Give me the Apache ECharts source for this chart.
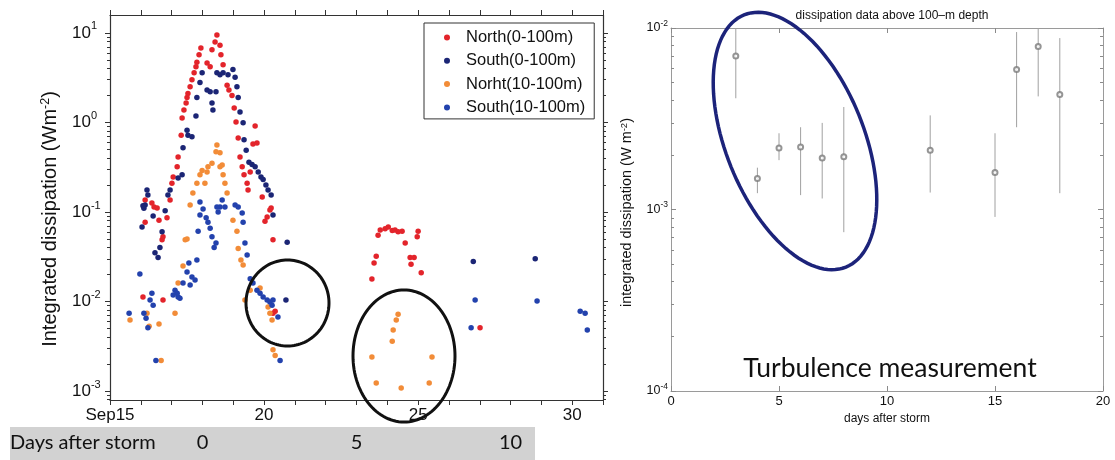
<!DOCTYPE html>
<html>
<head>
<meta charset="utf-8">
<script src="https://cdn.jsdelivr.net/npm/echarts@6/dist/echarts.min.js"></script>
<style>
  html, body { margin: 0; padding: 0; background: #fff; }
  #chart { width: 1115px; height: 460px; }
</style>
</head>
<body>
<div id="chart"></div>
<script>
// Depth-integrated dissipation, [day of September, W m^-2]
const northShallow = [
  [16.14,0.136],[16.36,0.126],[16.43,0.114],[16.53,0.111],[16.14,0.077],[16.59,0.081],[16.69,0.049],[16.72,0.053],
  [16.85,0.086],[16.95,0.136],[16.07,0.0112],[16.72,0.0104],
  [17.01,0.21],[17.05,0.246],[17.18,0.32],[17.21,0.41],[17.31,0.72],[17.34,1.12],[17.40,1.38],[17.47,1.65],
  [17.50,1.9],[17.53,2.1],[17.60,2.5],[17.66,3.0],[17.73,3.6],[17.79,4.2],[17.82,4.7],[17.89,5.7],[17.95,6.8],
  [18.15,4.6],[18.25,4.2],[18.31,6.5],[18.41,7.9],[18.47,9.5],[18.57,7.3],
  [18.60,5.7],[18.67,4.4],[18.80,2.6],[18.86,2.3],[18.96,2.0],[19.03,1.45],[19.09,1.01],[19.16,0.67],[19.22,0.41],
  [19.29,0.32],[19.35,0.26],[19.45,0.21],[19.48,0.176],[19.55,0.28],[19.71,0.91],[19.64,0.575],[19.77,0.59],
  [19.94,0.147],[20.23,0.111],[20.19,0.105],[20.10,0.088],[20.03,0.079],[20.29,0.049],[20.36,0.0078],[20.29,0.0074],
  [23.77,0.063],[23.93,0.065],[24.03,0.068],[24.16,0.062],[24.25,0.063],[24.35,0.060],[24.48,0.061],[25.00,0.061],
  [23.70,0.055],[24.97,0.053],[24.58,0.045],[23.64,0.032],[23.57,0.027],[24.74,0.031],[24.87,0.031],[24.77,0.026],
  [25.10,0.021],[23.50,0.0178],[27.01,0.0051]
];
const southShallow = [
  [17.99,3.6],[17.92,2.8],[18.15,2.3],[18.25,2.2],[18.44,2.2],[17.82,1.9],[18.31,1.65],[18.34,1.38],[17.79,1.18],
  [17.50,0.82],[17.53,0.72],[17.66,0.69],[17.37,0.52],[17.21,0.24],[17.34,0.26],[16.95,0.176],[16.88,0.155],
  [16.20,0.176],[16.23,0.155],[16.14,0.12],[16.10,0.11],
  [18.47,3.6],[18.57,3.4],[18.67,3.6],[18.83,3.4],[18.99,3.9],[19.06,3.2],[19.12,2.5],[19.16,1.9],[19.22,1.31],
  [19.32,0.99],[19.35,0.64],[19.42,0.49],[19.51,0.36],[19.61,0.34],[19.71,0.32],[19.81,0.28],[19.90,0.246],
  [19.97,0.23],[20.06,0.20],[20.13,0.176],[20.23,0.155],
  [16.04,0.068],[16.40,0.09],[16.79,0.103],[16.69,0.06],[16.62,0.040],[16.46,0.035],[16.56,0.031],[16.07,0.117],
  [20.29,0.0925],[20.75,0.046],[20.71,0.0104],
  [26.79,0.028],[28.80,0.030]
];
const northDeep = [
  [18.47,0.56],[18.44,0.47],[18.31,0.35],[18.18,0.32],[18.15,0.28],[17.99,0.29],[17.92,0.26],[17.82,0.21],
  [18.08,0.21],[17.69,0.163],[17.60,0.12],[18.57,0.32],[18.57,0.46],[18.64,0.335],[18.67,0.26],[18.73,0.21],[18.80,0.163],
  [17.44,0.049],[17.50,0.050],[17.37,0.025],[17.21,0.0161],[15.65,0.0062],[16.20,0.0074],[16.27,0.0053],
  [16.59,0.0056],[17.11,0.0074],[16.66,0.0022],
  [18.99,0.081],[19.12,0.061],[19.16,0.039],[19.25,0.029],[19.32,0.0256],[19.38,0.0104],[19.55,0.0134],
  [19.87,0.0142],[20.13,0.0087],[20.19,0.0074],[20.26,0.0062],[20.29,0.0029],[20.36,0.0025],
  [24.35,0.0072],[24.29,0.0062],[24.19,0.0048],[24.16,0.0036],[23.50,0.0024],[25.45,0.0024],
  [23.64,0.00123],[24.45,0.00108],[25.36,0.00123]
];
const southDeep = [
  [17.92,0.129],[18.02,0.108],[17.92,0.0925],[18.12,0.086],[18.18,0.077],[18.25,0.066],[17.86,0.061],[18.31,0.053],
  [18.44,0.045],[18.38,0.040],[18.57,0.114],[18.51,0.10],[18.73,0.114],[19.06,0.12],[19.16,0.114],[19.29,0.0975],
  [19.32,0.077],[18.64,0.136],[18.47,0.114],
  [17.82,0.029],[17.56,0.027],[17.50,0.0214],[17.66,0.0188],[17.76,0.0174],[17.37,0.0161],[17.60,0.0153],
  [17.11,0.0134],[17.18,0.0124],[17.21,0.0112],[17.27,0.0109],[17.05,0.0118],
  [15.97,0.0203],[16.36,0.0124],[16.30,0.0104],[16.40,0.0091],[15.62,0.0074],[16.10,0.0074],[16.17,0.0065],
  [16.23,0.0051],[16.49,0.0022],
  [19.38,0.045],[19.45,0.033],[19.55,0.018],[19.64,0.0161],[19.77,0.0134],[19.87,0.0124],[19.97,0.0112],
  [20.10,0.0104],[20.19,0.0099],[20.29,0.0104],[20.26,0.0091],[20.45,0.0067],[20.52,0.0022],
  [26.85,0.0104],[28.86,0.0101],[26.72,0.0051],[30.26,0.0078],[30.42,0.0074],[30.49,0.0048]
];
const seriesNames = ['North(0-100m)', 'South(0-100m)', 'Norht(10-100m)', 'South(10-100m)'];
const seriesColors = ['#e3242b', '#1b2575', '#f28c38', '#2342ad'];

// Turbulence profiles: days after storm, mean and range of integrated dissipation (W m^-2)
const turbDays = [3, 4, 5, 6, 7, 8, 12, 15, 16, 17, 18];
const turbMean = [0.0070, 0.00148, 0.00218, 0.00221, 0.00192, 0.00195, 0.00212, 0.0016, 0.0059, 0.0079, 0.0043];
const turbLow  = [0.0041, 0.00123, 0.00187, 0.0012, 0.00115, 0.00075, 0.00124, 0.00091, 0.00284, 0.0042, 0.00123];
const turbHigh = [0.0100, 0.0017, 0.00263, 0.00284, 0.0030, 0.00367, 0.0033, 0.00263, 0.0095, 0.0100, 0.0088];

// Axis labels
const dayLabels = { 15: 'Sep15', 20: '20', 25: '25', 30: '30' };
const stormDay = 18;            // September day taken as "0 days after storm"
const stormLabelStep = 5;
const leftDecades = [0.001, 0.01, 0.1, 1, 10];
const rightDecades = [0.0001, 0.001, 0.01];

const FONT = 'Liberation Sans';
const SLIDE_FONT = 'Lato';

const leftMin = Math.pow(10, -3.1), leftMax = Math.pow(10, 1.2);

function minorLogTicks(lo, hi) {
  const out = [];
  for (let e = -5; e <= 2; e++) {
    for (let m = 2; m <= 9; m++) {
      const v = m * Math.pow(10, e);
      if (v > lo && v < hi) out.push(v);
    }
  }
  return out;
}

function powerLabel(v) {
  const e = Math.round(Math.log10(v));
  return '{b|10}{s|' + e + '}';
}

function ellipse(cx, cy, rx, ry, rotDeg) {
  const t = rotDeg * Math.PI / 180, pts = [];
  for (let i = 0; i < 120; i++) {
    const a = i / 120 * Math.PI * 2;
    const x = rx * Math.cos(a), y = ry * Math.sin(a);
    pts.push([cx + x * Math.cos(t) - y * Math.sin(t), cy + x * Math.sin(t) + y * Math.cos(t)]);
  }
  return pts;
}

const leftRich = {
  b: { fontSize: 17, fontFamily: FONT, color: '#111', lineHeight: 24 },
  s: { fontSize: 11, fontFamily: FONT, color: '#111', lineHeight: 12, verticalAlign: 'top' }
};
const rightRich = {
  b: { fontSize: 12.5, fontFamily: FONT, color: '#111', lineHeight: 18 },
  s: { fontSize: 8.5, fontFamily: FONT, color: '#111', lineHeight: 9, verticalAlign: 'top' }
};

// ---- axes of the time-series panel ----
const leftFrame = { show: true, onZero: false, lineStyle: { color: '#333', width: 1.2 } };
const noLine = { show: false, onZero: false };
function leftLogAxis(position, major, withLabels) {
  return {
    type: 'log', gridIndex: 0, position: position, min: leftMin, max: leftMax,
    axisLine: major ? leftFrame : noLine,
    splitLine: { show: false },
    axisTick: { show: true, inside: false, length: major ? 5 : 3,
      customValues: major ? leftDecades : minorLogTicks(leftMin, leftMax),
      lineStyle: { color: '#333', width: 1 } },
    axisLabel: withLabels ? {
      show: true, customValues: leftDecades, formatter: powerLabel,
      align: 'left', margin: 38, rich: leftRich
    } : { show: false }
  };
}

// ---- axes of the turbulence panel ----
const rightFrame = { show: true, onZero: false, lineStyle: { color: '#9a9a9a', width: 1 } };
function rightLogAxis(position, major, withLabels) {
  return {
    type: 'log', gridIndex: 1, position: position, min: 0.0001, max: 0.01,
    axisLine: major ? rightFrame : noLine,
    splitLine: { show: false },
    axisTick: { show: true, inside: true, length: major ? 5 : 3,
      customValues: major ? rightDecades : minorLogTicks(0.0001, 0.01),
      lineStyle: { color: '#8a8a8a', width: 1 } },
    axisLabel: withLabels ? {
      show: true, customValues: rightDecades, formatter: powerLabel,
      margin: 3, rich: rightRich
    } : { show: false },
    name: withLabels ? 'integrated dissipation (W m{s|-2})' : '',
    nameLocation: 'middle', nameGap: 36, nameRotate: 90,
    nameTextStyle: { fontFamily: FONT, fontSize: 14.5, color: '#111', lineHeight: 16, padding: [0, 6, 0, 0],
      rich: { s: { fontSize: 9.5, fontFamily: FONT, color: '#111', lineHeight: 9, verticalAlign: 'top' } } }
  };
}

const chart = echarts.init(document.getElementById('chart'), null, { renderer: 'canvas' });

const scatterSeries = [northShallow, southShallow, northDeep, southDeep].map((d, i) => ({
  name: seriesNames[i], type: 'scatter', xAxisIndex: 0, yAxisIndex: 0,
  data: d, symbol: 'circle', symbolSize: 5.5,
  itemStyle: { color: seriesColors[i], opacity: 1 },
  emphasis: { disabled: true }, z: 3 + i
}));

const option = {
  animation: false,
  backgroundColor: '#fff',
  title: {
    text: 'dissipation data above 100\u2013m depth', left: 887, top: 5, textAlign: 'center',
    textStyle: { fontFamily: FONT, fontSize: 12, fontWeight: 'normal', color: '#111' }
  },
  legend: {
    data: seriesNames, orient: 'vertical', left: 424, top: 23,
    padding: [6, 9, 3, 20], itemGap: 6.3, itemWidth: 6, itemHeight: 6, icon: 'circle',
    borderColor: '#333', borderWidth: 1, backgroundColor: '#fff', selectedMode: false,
    textStyle: { fontFamily: FONT, fontSize: 16.5, color: '#111', lineHeight: 16, padding: [0, 0, 0, 11] }
  },
  grid: [
    { left: 110, top: 15, width: 493, height: 385 },
    { left: 671, top: 28, width: 432, height: 363 }
  ],
  xAxis: [
    { type: 'value', gridIndex: 0, position: 'bottom', min: 15, max: 31, interval: 1,
      axisLine: leftFrame, splitLine: { show: false },
      axisTick: { show: true, inside: false, length: 5, lineStyle: { color: '#333' } },
      axisLabel: { fontFamily: FONT, fontSize: 17, color: '#111', margin: 7,
        formatter: v => dayLabels[v] || '' } },
    { type: 'value', gridIndex: 0, position: 'top', min: 15, max: 31, interval: 1,
      axisLine: leftFrame, splitLine: { show: false },
      axisTick: { show: true, inside: false, length: 5, lineStyle: { color: '#333' } },
      axisLabel: { show: false } },
    { type: 'value', gridIndex: 0, position: 'bottom', offset: 33,
      min: 15 - stormDay, max: 31 - stormDay, interval: 1,
      axisLine: noLine, axisTick: { show: false }, splitLine: { show: false },
      axisLabel: { fontFamily: SLIDE_FONT, fontSize: 20, color: '#111', margin: 0,
        formatter: v => (v >= 0 && v % stormLabelStep === 0) ? String(v) : '' } },
    { type: 'value', gridIndex: 1, position: 'bottom', min: 0, max: 20, interval: 5,
      axisLine: rightFrame, splitLine: { show: false },
      axisTick: { show: true, inside: true, length: 5, lineStyle: { color: '#8a8a8a' } },
      axisLabel: { fontFamily: FONT, fontSize: 13, color: '#111', margin: 4 },
      name: 'days after storm', nameLocation: 'middle', nameGap: 18,
      nameTextStyle: { fontFamily: FONT, fontSize: 12, color: '#111' } },
    { type: 'value', gridIndex: 1, position: 'top', min: 0, max: 20, interval: 5,
      axisLine: rightFrame, splitLine: { show: false },
      axisTick: { show: true, inside: true, length: 5, lineStyle: { color: '#8a8a8a' } },
      axisLabel: { show: false } }
  ],
  yAxis: [
    Object.assign(leftLogAxis('left', true, true), {
      name: 'Integrated dissipation (Wm{s|-2})', nameLocation: 'middle', nameGap: 49, nameRotate: 90,
      nameTextStyle: { fontFamily: FONT, fontSize: 20, color: '#111', lineHeight: 22, padding: [0, 23, 0, 0],
        rich: { s: { fontSize: 12.5, fontFamily: FONT, color: '#111', lineHeight: 12, verticalAlign: 'top' } } }
    }),
    leftLogAxis('left', false, false),
    leftLogAxis('right', true, false),
    leftLogAxis('right', false, false),
    rightLogAxis('left', true, true),
    rightLogAxis('left', false, false),
    rightLogAxis('right', true, false),
    rightLogAxis('right', false, false)
  ],
  series: scatterSeries.concat([
    {
      type: 'custom', xAxisIndex: 3, yAxisIndex: 4, clip: true,
      data: turbDays.map((d, i) => [d, turbLow[i], turbHigh[i]]),
      renderItem: (params, api) => {
        const lo = api.coord([api.value(0), api.value(1)]);
        const hi = api.coord([api.value(0), api.value(2)]);
        return { type: 'line', shape: { x1: lo[0], y1: lo[1], x2: hi[0], y2: hi[1] },
          style: { stroke: '#a0a0a0', lineWidth: 1 } };
      },
      z: 2
    },
    {
      type: 'scatter', xAxisIndex: 3, yAxisIndex: 4,
      data: turbDays.map((d, i) => [d, turbMean[i]]),
      symbol: 'emptyCircle', symbolSize: 5,
      itemStyle: { color: '#7a7a7a', borderWidth: 1 },
      emphasis: { disabled: true }, z: 3
    }
  ]),
  graphic: [
    { type: 'rect', z: -10, shape: { x: 10, y: 427, width: 525, height: 33 }, style: { fill: '#d2d2d2' } },
    { type: 'text', z: 10, x: 10, y: 443, style: { text: 'Days after storm', fontFamily: SLIDE_FONT,
      fontSize: 20, fill: '#111', verticalAlign: 'middle' } },
    { type: 'text', z: 10, x: 890, y: 368, style: { text: 'Turbulence measurement', fontFamily: SLIDE_FONT,
      fontSize: 26.5, fill: '#111', align: 'center', verticalAlign: 'middle' } },
    { type: 'polygon', z: 100, shape: { points: ellipse(287.5, 303, 41.5, 43, 0) },
      style: { fill: 'none', stroke: '#111', lineWidth: 3 } },
    { type: 'polygon', z: 100, shape: { points: ellipse(404, 356, 51, 66, 0) },
      style: { fill: 'none', stroke: '#111', lineWidth: 3 } },
    { type: 'polygon', z: 100, shape: { points: ellipse(795, 141, 69, 136, -22) },
      style: { fill: 'none', stroke: '#1c237a', lineWidth: 3.5 } }
  ]
};

chart.setOption(option);
</script>
</body>
</html>
